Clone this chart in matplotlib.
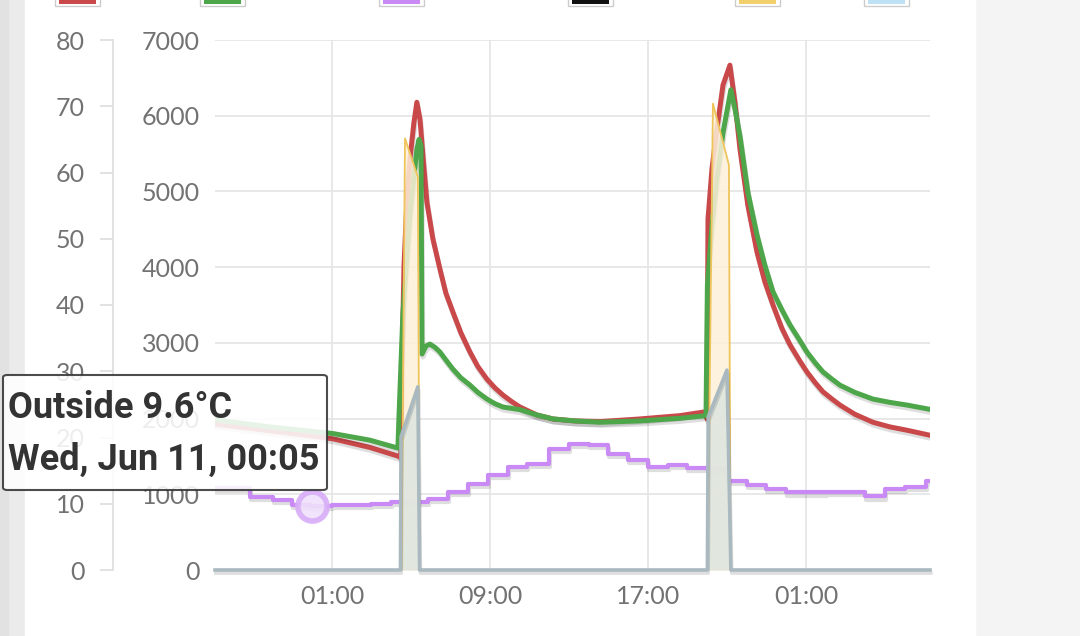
import matplotlib
matplotlib.use('Agg')
import matplotlib.pyplot as plt
import matplotlib.patheffects as pe
from matplotlib.patches import Rectangle, FancyBboxPatch

# hours counted from Jun 11 00:00
flow_t = [-4.92, -2.14, 1.05, 2.92, 4.44, 4.49, 4.54, 4.65, 4.80, 4.95, 5.15, 5.30, 5.46, 5.61,
          5.81, 6.11, 6.47, 6.77, 7.13, 7.53, 7.99, 8.39, 8.85, 9.25, 9.66, 10.11, 10.52, 11.38,
          12.19, 13.30, 14.57, 16.59, 18.62, 19.94, 19.99, 20.04, 20.24, 20.49, 20.80, 21.15,
          21.41, 21.66, 22.06, 22.52, 22.92, 23.33, 23.78, 24.19, 24.70, 25.05, 25.46, 25.86,
          26.32, 26.72, 27.48, 28.39, 29.25, 30.11, 31.18]
flow = [22.0, 21.0, 19.8, 18.5, 17.1, 16.8, 30.0, 46.0, 56.0, 62.0, 67.5, 70.6, 68.0, 62.5,
        55.5, 50.0, 45.4, 41.8, 38.9, 35.8, 32.9, 30.7, 28.8, 27.5, 26.4, 25.4, 24.6, 23.4,
        22.8, 22.5, 22.4, 22.8, 23.3, 23.9, 22.8, 53.0, 60.5, 66.5, 73.2, 76.2,
        70.5, 63.5, 55.0, 48.0, 43.5, 40.0, 36.5, 34.0, 31.5, 29.9, 28.3, 26.9,
        25.8, 24.9, 23.5, 22.3, 21.6, 21.1, 20.4]

ret_t = [-4.92, -2.14, 1.05, 2.92, 4.34, 4.39, 4.59, 4.95, 5.30, 5.41, 5.51, 5.56, 5.76, 5.96,
         6.22, 6.47, 6.77, 7.13, 7.53, 7.99, 8.39, 8.85, 9.25, 9.66, 10.52, 11.38, 12.19, 13.30,
         14.57, 16.59, 18.62, 19.94, 20.01, 20.24, 20.49, 20.80, 21.20, 21.41, 21.66, 22.06,
         22.52, 22.92, 23.33, 23.78, 24.19, 24.70, 25.05, 25.46, 25.86, 26.32, 26.72, 27.48,
         28.39, 29.25, 30.11, 31.18]
ret = [22.7, 21.6, 20.6, 19.6, 18.4, 22.8, 38.5, 53.6, 63.5, 65.0, 64.0, 32.6, 33.8, 34.1,
       33.6, 32.9, 31.7, 30.3, 29.0, 27.9, 26.8, 25.8, 25.1, 24.6, 24.2, 23.4, 22.8, 22.5,
       22.3, 22.5, 22.9, 23.3, 43.0, 52.0, 59.0, 66.0, 72.5, 69.5, 65.5, 57.0,
       50.6, 46.0, 42.0, 39.3, 37.0, 34.6, 32.9, 31.3, 29.9, 28.8, 27.9, 26.8,
       25.8, 25.3, 24.9, 24.3]

outside_t = [-4.92, -3.15, -2.0, -1.0, -0.1, 1.0, 3.0, 4.0, 5.86, 6.87, 7.88, 8.9, 9.9, 10.9,
             12.0, 13.0, 14.0, 15.0, 16.0, 17.0, 18.0, 19.0, 20.0, 21.0, 22.0, 23.0, 24.0,
             26.0, 28.0, 29.0, 30.0, 31.1, 31.28]
outside = [12.4, 11.0, 10.6, 9.8, 9.6, 9.8, 10.0, 10.3, 10.7, 11.8, 13.0, 14.3, 15.5, 16.0,
           18.3, 19.0, 18.9, 17.5, 16.6, 15.5, 15.9, 15.4, 15.2, 13.4, 12.8, 12.2, 11.7,
           11.8, 11.1, 12.2, 12.6, 13.4, 13.4]

heat_t = [-4.92, 4.52, 4.70, 5.35, 5.44, 20.02, 20.29, 21.10, 21.18, 31.28]
heat = [0, 0, 5700, 5190, 0, 0, 6160, 5350, 0, 0]

elec_t = [-4.92, 4.47, 4.50, 5.35, 5.44, 20.01, 20.05, 21.00, 21.20, 31.28]
elec = [0, 0, 1760, 2420, 0, 0, 2020, 2640, 0, 0]

hover_t, hover_v = 0.0, 9.6

temp_ticks = list(range(0, 90, 10))
power_ticks = list(range(0, 8000, 1000))
x_ticks = [1, 9, 17, 25]
x_labels = ['01:00', '09:00', '17:00', '01:00']

legend_colors = ['#c9494a', '#4ea64a', '#c98af5', '#111111', '#f2cf6a', '#bfe1f6']
legend_x = [55, 200, 379, 568, 735, 864]

W, H = 1080, 636
PT = 0.72  # points per pixel at dpi 100
fig = plt.figure(figsize=(W / 100, H / 100), dpi=100)
fig.patch.set_facecolor('#f4f4f4')
fig.add_artist(Rectangle((0, 0), 25 / W, 1, transform=fig.transFigure, color='#ebebeb', zorder=-5))
fig.add_artist(Rectangle((0, 0), 8 / W, 1, transform=fig.transFigure, color='#e2e2e2', zorder=-5))
fig.add_artist(Rectangle((25 / W, 0), 950 / W, 1, transform=fig.transFigure, color='white', zorder=-5))

for c, lx in zip(legend_colors, legend_x):
    fig.add_artist(Rectangle((lx / W, 1 - 6 / H), 45 / W, 10 / H, transform=fig.transFigure,
                             facecolor='white', edgecolor='#cccccc', lw=1))
    fig.add_artist(Rectangle(((lx + 4) / W, 1 - 4 / H), 37 / W, 8 / H, transform=fig.transFigure,
                             facecolor=c, edgecolor='none'))

rect = [215 / W, 66 / H, 715 / W, 530 / H]
tick_font = dict(family='Lato', size=18, color='#727272')

ax = fig.add_axes(rect, zorder=0)
ax.set_xlim(-4.92, 31.28)
ax.set_ylim(0, 7000)
ax.set_yticks(power_ticks)
ax.set_yticklabels([str(v) for v in power_ticks], **tick_font)
ax.set_xticks(x_ticks)
ax.set_xticklabels(x_labels, **tick_font)
ax.tick_params(length=0, pad=15 * PT)
ax.grid(True, color='#e6e6e6', lw=1.3)
for s in ax.spines.values():
    s.set_visible(False)
ax.set_facecolor('none')

axt = fig.add_axes(rect, zorder=1, sharex=ax)
axt.set_facecolor('none')
for k in ['top', 'right', 'bottom']:
    axt.spines[k].set_visible(False)
axt.spines['left'].set_position(('outward', 102 * PT))
axt.spines['left'].set_color('#dddddd')
axt.spines['left'].set_linewidth(1.2)
axt.set_ylim(0, 80)
axt.set_yticks(temp_ticks)
axt.set_yticklabels([str(v) for v in temp_ticks], **tick_font)
axt.tick_params(axis='y', length=13 * PT, width=1.2, color='#dddddd', pad=15 * PT)
axt.tick_params(axis='x', bottom=False, labelbottom=False)

shadow = [pe.SimpleLineShadow(offset=(0.6, -2.2), shadow_color='black', alpha=0.13), pe.Normal()]
axt.plot(flow_t, flow, color='#c9494a', lw=3.6, solid_joinstyle='round', path_effects=shadow)
axt.plot(ret_t, ret, color='#4ea64a', lw=3.6, solid_joinstyle='round', path_effects=shadow)
axt.plot(outside_t, outside, color='#c98af5', lw=3.0, drawstyle='steps-post', path_effects=shadow)
axt.plot([hover_t], [hover_v], 'o', ms=21, mfc='#efe0fb', mec='#d8adf7', mew=4, alpha=0.9)

axp = fig.add_axes(rect, zorder=2, sharex=ax)
axp.set_facecolor('none')
axp.set_ylim(0, 7000)
axp.axis('off')
axp.fill_between(heat_t, heat, color='#fcf0d8', alpha=0.85, lw=0)
axp.plot(heat_t, heat, color='#efc45a', lw=1.3)
axp.fill_between(elec_t, elec, color='#dde4df', alpha=0.85, lw=0)
axp.plot(elec_t, elec, color='#a9b9bf', lw=2.6, path_effects=shadow, clip_on=False)

tip = FancyBboxPatch((3 / W, 1 - 490 / H), 324 / W, 115 / H, transform=fig.transFigure,
                     boxstyle='round,pad=0,rounding_size=0.004', facecolor='white', alpha=0.88,
                     edgecolor='#333333', lw=1.5, zorder=10)
fig.add_artist(tip)
fig.text(8 / W, 1 - 418 / H, 'Outside 9.6°C', family='Roboto', weight='bold', size=26,
         color='#333333', va='baseline', zorder=11)
fig.text(8 / W, 1 - 470 / H, 'Wed, Jun 11, 00:05', family='Roboto', weight='bold', size=26,
         color='#333333', va='baseline', zorder=11)

fig.savefig('out.png', dpi=100, facecolor=fig.get_facecolor())
